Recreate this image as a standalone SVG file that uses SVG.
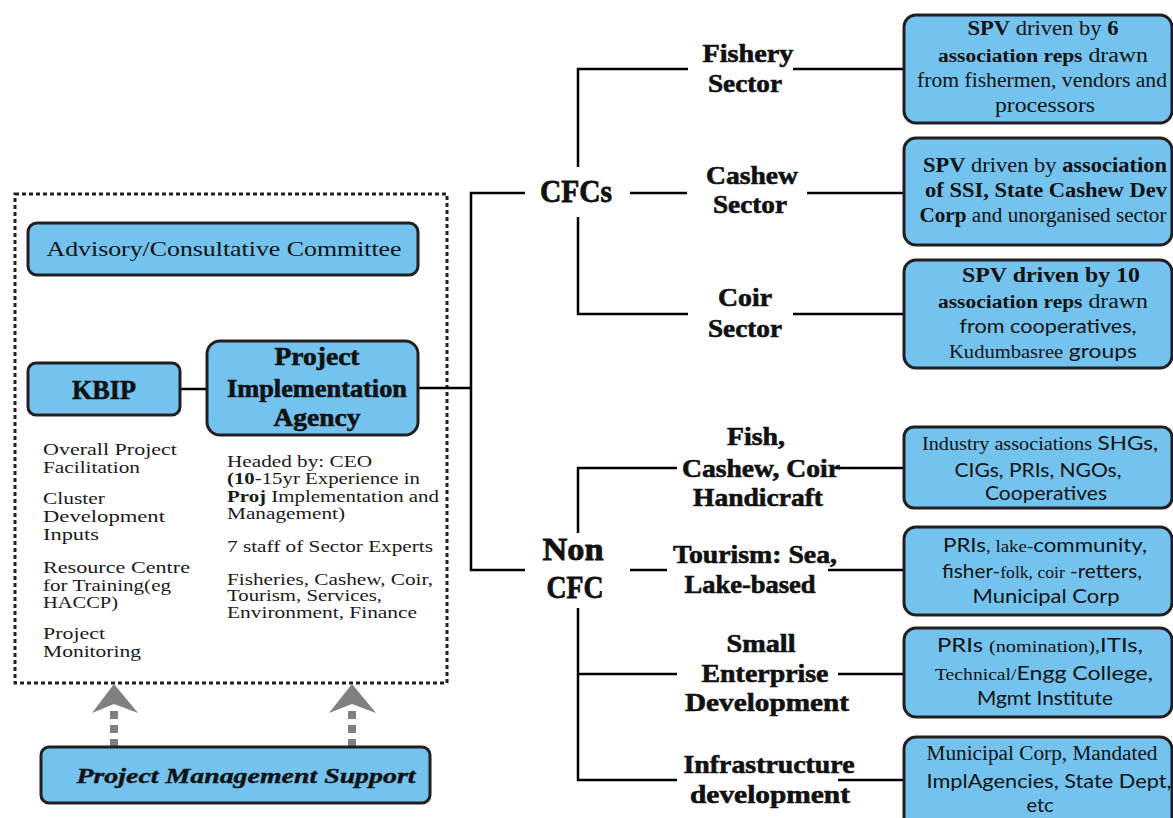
<svg xmlns="http://www.w3.org/2000/svg" width="1173" height="818" viewBox="0 0 1173 818">
  <style>
    .box { fill: #73C3EE; stroke: #231F20; stroke-width: 3; }
    .wire { fill: none; stroke: #000; stroke-width: 2.5; }
    .frame { fill: none; stroke: #231F20; stroke-width: 3; stroke-dasharray: 4 3; }
    .support { fill: none; stroke: #808080; stroke-width: 8; stroke-dasharray: 8 6; }
    .head { fill: #808080; }
    text { font-family: "Liberation Serif", serif; fill: #111; }
    .b { font-weight: bold; }
    .lbl { font-weight: bold; font-size: 25px; text-anchor: middle; stroke: #111; stroke-width: 0.6; }
    .big { font-weight: bold; font-size: 32px; text-anchor: middle; stroke: #111; stroke-width: 0.8; }
    .note { font-size: 17px; fill: #1a1a1a; }
    .bt { font-size: 20px; text-anchor: middle; }
    .sans { font-family: Lato, "Liberation Sans", sans-serif; }
  </style>

  <!-- dotted frame around the governance block -->
  <rect class="frame" x="15" y="194" width="432" height="489"/>

  <!-- connectors -->
  <g id="connectors">
    <line class="wire" x1="180" y1="389" x2="207" y2="389"/>
    <line class="wire" x1="418" y1="388" x2="471" y2="388"/>
    <polyline class="wire" points="525,193 471,193 471,570 525,570"/>
    <!-- CFC branch -->
    <polyline class="wire" points="688,69 578,69 578,167"/>
    <polyline class="wire" points="578,217 578,314 688,314"/>
    <line class="wire" x1="630" y1="193" x2="687" y2="193"/>
    <line class="wire" x1="793" y1="69" x2="904" y2="69"/>
    <line class="wire" x1="807" y1="193" x2="904" y2="193"/>
    <line class="wire" x1="793" y1="314" x2="904" y2="314"/>
    <!-- Non CFC branch -->
    <polyline class="wire" points="677,468 578,468 578,533"/>
    <polyline class="wire" points="578,608 578,780 677,780"/>
    <line class="wire" x1="578" y1="674" x2="677" y2="674"/>
    <line class="wire" x1="630" y1="570" x2="667" y2="570"/>
    <line class="wire" x1="835" y1="468" x2="904" y2="468"/>
    <line class="wire" x1="828" y1="570" x2="904" y2="570"/>
    <line class="wire" x1="838" y1="674" x2="904" y2="674"/>
    <line class="wire" x1="838" y1="780" x2="904" y2="780"/>
    <!-- support arrows -->
    <line class="support" x1="114" y1="747" x2="114" y2="708"/>
    <polygon class="head" points="114,684 138,713 114,704 92,713"/>
    <line class="support" x1="352" y1="747" x2="352" y2="708"/>
    <polygon class="head" points="352,684 376,713 352,704 329,713"/>
  </g>

  <g id="advisory">
    <rect class="box" x="28" y="223" width="390" height="52" rx="9"/>
    <text x="224" y="256" font-size="22" text-anchor="middle" textLength="355" lengthAdjust="spacingAndGlyphs">Advisory/Consultative Committee</text>
  </g>

  <g id="kbip">
    <rect class="box" x="28" y="363" width="152" height="52" rx="8"/>
    <text x="104" y="399" font-size="27" class="b" text-anchor="middle" stroke="#111" stroke-width="0.6" textLength="64" lengthAdjust="spacingAndGlyphs">KBIP</text>
  </g>

  <g id="pia">
    <rect class="box" x="207" y="341" width="211" height="94" rx="13"/>
    <text x="317" y="365" class="lbl" textLength="85" lengthAdjust="spacingAndGlyphs">Project</text>
    <text x="317" y="397" class="lbl" textLength="180" lengthAdjust="spacingAndGlyphs">Implementation</text>
    <text x="317" y="426" class="lbl" textLength="87" lengthAdjust="spacingAndGlyphs">Agency</text>
  </g>

  <g id="kbip-roles">
    <text class="note" x="43" y="455" textLength="134" lengthAdjust="spacingAndGlyphs">Overall Project</text>
    <text class="note" x="43" y="473" textLength="97" lengthAdjust="spacingAndGlyphs">Facilitation</text>
    <text class="note" x="43" y="504" textLength="62" lengthAdjust="spacingAndGlyphs">Cluster</text>
    <text class="note" x="43" y="522" textLength="122" lengthAdjust="spacingAndGlyphs">Development</text>
    <text class="note" x="43" y="540" textLength="56" lengthAdjust="spacingAndGlyphs">Inputs</text>
    <text class="note" x="43" y="573" textLength="147" lengthAdjust="spacingAndGlyphs">Resource Centre</text>
    <text class="note" x="43" y="591" textLength="128" lengthAdjust="spacingAndGlyphs">for Training(eg</text>
    <text class="note" x="43" y="608" textLength="75" lengthAdjust="spacingAndGlyphs">HACCP)</text>
    <text class="note" x="43" y="639" textLength="62" lengthAdjust="spacingAndGlyphs">Project</text>
    <text class="note" x="43" y="657" textLength="98" lengthAdjust="spacingAndGlyphs">Monitoring</text>
  </g>

  <g id="pia-details">
    <text class="note" x="227" y="467" textLength="145" lengthAdjust="spacingAndGlyphs">Headed by: CEO</text>
    <text class="note" x="227" y="484" textLength="193" lengthAdjust="spacingAndGlyphs"><tspan class="b">(10</tspan>-15yr Experience in</text>
    <text class="note" x="227" y="502" textLength="212" lengthAdjust="spacingAndGlyphs"><tspan class="b">Proj</tspan> Implementation and</text>
    <text class="note" x="227" y="519" textLength="118" lengthAdjust="spacingAndGlyphs">Management)</text>
    <text class="note" x="227" y="552" textLength="206" lengthAdjust="spacingAndGlyphs">7 staff of Sector Experts</text>
    <text class="note" x="227" y="585" textLength="206" lengthAdjust="spacingAndGlyphs">Fisheries, Cashew, Coir,</text>
    <text class="note" x="227" y="601" textLength="155" lengthAdjust="spacingAndGlyphs">Tourism, Services,</text>
    <text class="note" x="227" y="618" textLength="190" lengthAdjust="spacingAndGlyphs">Environment, Finance</text>
  </g>

  <g id="pms">
    <rect class="box" x="41" y="747" width="389" height="56" rx="8"/>
    <text x="246" y="783" font-size="22" font-weight="bold" font-style="italic" text-anchor="middle" stroke="#111" stroke-width="0.4" textLength="339" lengthAdjust="spacingAndGlyphs">Project Management Support</text>
  </g>

  <g id="cfcs">
    <text x="576" y="202" class="big" textLength="72" lengthAdjust="spacingAndGlyphs">CFCs</text>
  </g>
  <g id="non-cfc">
    <text x="573" y="560" class="big" textLength="61" lengthAdjust="spacingAndGlyphs">Non</text>
    <text x="575" y="598" class="big" textLength="57" lengthAdjust="spacingAndGlyphs">CFC</text>
  </g>

  <g id="fishery-sector">
    <text x="748" y="62" class="lbl" textLength="91" lengthAdjust="spacingAndGlyphs">Fishery</text>
    <text x="745" y="92" class="lbl" textLength="74" lengthAdjust="spacingAndGlyphs">Sector</text>
  </g>
  <g id="cashew-sector">
    <text x="752" y="184" class="lbl" textLength="92" lengthAdjust="spacingAndGlyphs">Cashew</text>
    <text x="750" y="213" class="lbl" textLength="74" lengthAdjust="spacingAndGlyphs">Sector</text>
  </g>
  <g id="coir-sector">
    <text x="745" y="306" class="lbl" textLength="54" lengthAdjust="spacingAndGlyphs">Coir</text>
    <text x="745" y="337" class="lbl" textLength="74" lengthAdjust="spacingAndGlyphs">Sector</text>
  </g>
  <g id="fcc-handicraft">
    <text x="756" y="445" class="lbl" textLength="58" lengthAdjust="spacingAndGlyphs">Fish,</text>
    <text x="761" y="477" class="lbl" textLength="158" lengthAdjust="spacingAndGlyphs">Cashew, Coir</text>
    <text x="758" y="506" class="lbl" textLength="130" lengthAdjust="spacingAndGlyphs">Handicraft</text>
  </g>
  <g id="tourism">
    <text x="755" y="563" class="lbl" textLength="164" lengthAdjust="spacingAndGlyphs">Tourism: Sea,</text>
    <text x="750" y="593" class="lbl" textLength="131" lengthAdjust="spacingAndGlyphs">Lake-based</text>
  </g>
  <g id="small-enterprise">
    <text x="761" y="652" class="lbl" textLength="69" lengthAdjust="spacingAndGlyphs">Small</text>
    <text x="765" y="682" class="lbl" textLength="127" lengthAdjust="spacingAndGlyphs">Enterprise</text>
    <text x="767" y="711" class="lbl" textLength="164" lengthAdjust="spacingAndGlyphs">Development</text>
  </g>
  <g id="infrastructure">
    <text x="769" y="773" class="lbl" textLength="171" lengthAdjust="spacingAndGlyphs">Infrastructure</text>
    <text x="770" y="803" class="lbl" textLength="160" lengthAdjust="spacingAndGlyphs">development</text>
  </g>

  <g id="spv-fishery">
    <rect class="box" x="904" y="15" width="268" height="108" rx="12"/>
    <text class="bt" x="1043" y="35" textLength="151" lengthAdjust="spacingAndGlyphs"><tspan class="b">SPV</tspan> driven by <tspan class="b">6</tspan></text>
    <text class="bt" x="1043" y="62" textLength="210" lengthAdjust="spacingAndGlyphs"><tspan class="b" font-size="18">association reps</tspan> drawn</text>
    <text class="bt" x="1042" y="87" textLength="250" lengthAdjust="spacingAndGlyphs">from fishermen, vendors and</text>
    <text class="bt" x="1045" y="112" textLength="100" lengthAdjust="spacingAndGlyphs">processors</text>
  </g>

  <g id="spv-cashew">
    <rect class="box" x="904" y="138" width="268" height="107" rx="12"/>
    <text class="bt" x="1045" y="172" textLength="244" lengthAdjust="spacingAndGlyphs"><tspan class="b">SPV</tspan> driven by <tspan class="b">association</tspan></text>
    <text class="bt b" x="1046" y="197" textLength="242" lengthAdjust="spacingAndGlyphs">of SSI, State Cashew Dev</text>
    <text class="bt" x="1043" y="222" textLength="247" lengthAdjust="spacingAndGlyphs"><tspan class="b">Corp</tspan> and unorganised sector</text>
  </g>

  <g id="spv-coir">
    <rect class="box" x="904" y="260" width="268" height="108" rx="12"/>
    <text class="bt b" x="1051" y="282" font-size="21" textLength="178" lengthAdjust="spacingAndGlyphs">SPV driven by 10</text>
    <text class="bt" x="1043" y="308" textLength="210" lengthAdjust="spacingAndGlyphs"><tspan class="b" font-size="18">association reps</tspan>  drawn</text>
    <text class="bt sans" x="1048" y="333" textLength="177" lengthAdjust="spacingAndGlyphs">from cooperatives,</text>
    <text class="bt" x="1043" y="358" textLength="188" lengthAdjust="spacingAndGlyphs"><tspan font-size="18">Kudumbasree</tspan> <tspan class="sans">groups</tspan></text>
  </g>

  <g id="ngo-partners">
    <rect class="box" x="904" y="427" width="268" height="81" rx="10"/>
    <text class="bt" x="1040" y="450" textLength="236" lengthAdjust="spacingAndGlyphs"><tspan font-size="18">Industry associations</tspan> <tspan class="sans">SHGs,</tspan></text>
    <text class="bt sans" x="1038" y="477" textLength="167" lengthAdjust="spacingAndGlyphs">CIGs, PRIs, NGOs,</text>
    <text class="bt sans" x="1046" y="500" textLength="122" lengthAdjust="spacingAndGlyphs">Cooperatives</text>
  </g>

  <g id="tourism-partners">
    <rect class="box" x="904" y="527" width="268" height="88" rx="12"/>
    <text class="bt" x="1045" y="552" textLength="204" lengthAdjust="spacingAndGlyphs"><tspan class="sans">PRIs</tspan><tspan font-size="17">, lake-</tspan><tspan class="sans">community,</tspan></text>
    <text class="bt" x="1042" y="578" textLength="200" lengthAdjust="spacingAndGlyphs"><tspan class="sans">fisher-</tspan><tspan font-size="17">folk, coir</tspan> <tspan class="sans">-retters,</tspan></text>
    <text class="bt sans" x="1046" y="603" textLength="147" lengthAdjust="spacingAndGlyphs">Municipal Corp</text>
  </g>

  <g id="enterprise-partners">
    <rect class="box" x="904" y="628" width="268" height="89" rx="12"/>
    <text class="bt" x="1040" y="652" textLength="206" lengthAdjust="spacingAndGlyphs"><tspan class="sans">PRIs</tspan> <tspan font-size="17">(nomination),</tspan><tspan class="sans">ITIs,</tspan></text>
    <text class="bt" x="1044" y="680" textLength="218" lengthAdjust="spacingAndGlyphs"><tspan font-size="17">Technical/</tspan><tspan class="sans">Engg College,</tspan></text>
    <text class="bt sans" x="1045" y="705" textLength="136" lengthAdjust="spacingAndGlyphs">Mgmt Institute</text>
  </g>

  <g id="infra-partners">
    <rect class="box" x="904" y="737" width="268" height="95" rx="12"/>
    <text class="bt" x="1042" y="760" font-size="18" textLength="231" lengthAdjust="spacingAndGlyphs">Municipal Corp, Mandated</text>
    <text class="bt sans" x="1049" y="788" textLength="245" lengthAdjust="spacingAndGlyphs">ImplAgencies, State Dept,</text>
    <text class="bt sans" x="1040" y="812">etc</text>
  </g>
</svg>
